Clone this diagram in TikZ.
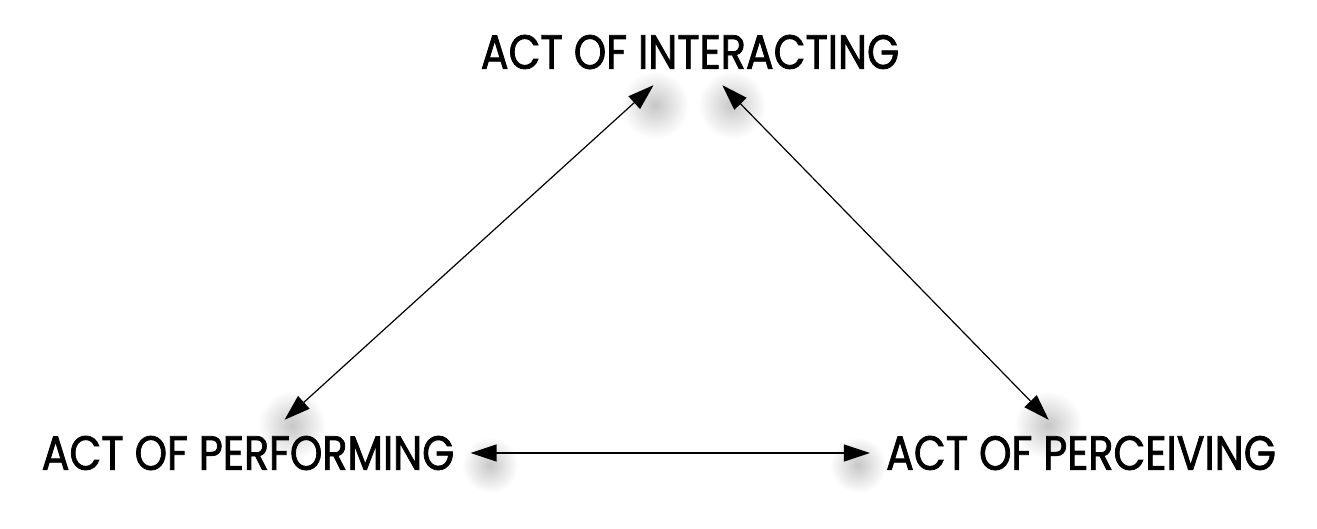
\documentclass[tikz,border=0pt]{standalone}
\usepackage{fontspec}
\setmainfont{Poppins}[FakeStretch=0.86, FakeBold=1.6]
\usetikzlibrary{arrows.meta}
\begin{document}
\begin{tikzpicture}[x=1pt,y=-1pt,
  lbl/.style={font=\fontsize{48}{50}\selectfont, inner xsep=16pt, minimum height=66pt, inner ysep=0pt, text=black},
  conn/.style={line width=1.2pt, {Triangle[length=26pt,width=17pt]}-{Triangle[length=26pt,width=17pt]}},
  glow/.style={inner color=black!22, outer color=white, draw=none}]
\useasboundingbox (0,0) rectangle (1317,528);
\fill[white] (0,0) rectangle (1317,528);
% soft shadows near arrowheads
\shade[glow] (655,105) circle (34pt);
\shade[glow] (732,105) circle (34pt);
\shade[glow] (292,425) circle (34pt);
\shade[glow] (1048,425) circle (34pt);
\shade[glow] (490,465) circle (28pt);
\shade[glow] (858,465) circle (28pt);
\node[lbl] (top) at (690,52) {ACT OF INTERACTING};
\node[lbl] (left) at (248,453) {ACT OF PERFORMING};
\node[lbl] (right) at (1081,453) {ACT OF PERCEIVING};
\draw[conn] (left) -- (top);
\draw[conn] (top) -- (right);
\draw[conn] (left) -- (right);
\end{tikzpicture}
\end{document}
